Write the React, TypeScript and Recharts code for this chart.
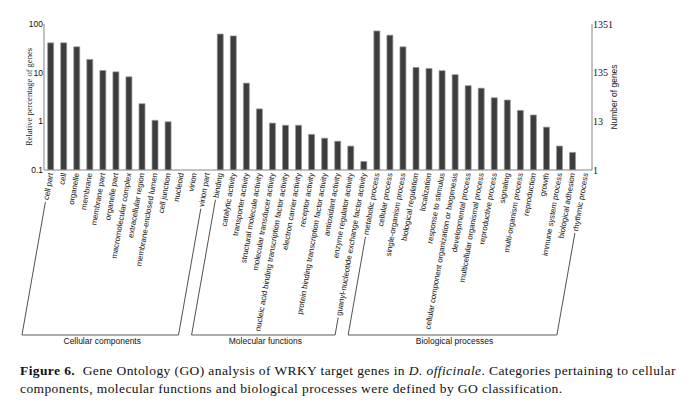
import { BarChart, Bar, XAxis, YAxis, Label } from "recharts";

// GO terms, in plot order
const categories = [
  "cell part", "cell", "organelle", "membrane", "membrane part", "organelle part",
  "macromolecular complex", "extracellular region", "membrane-enclosed lumen",
  "cell junction", "nucleoid", "virion", "virion part",
  "binding", "catalytic activity", "transporter activity", "structural molecule activity",
  "molecular transducer activity", "nucleic acid binding transcription factor activity",
  "electron carrier activity", "receptor activity",
  "protein binding transcription factor activity", "antioxidant activity",
  "enzyme regulator activity", "guanyl-nucleotide exchange factor activity",
  "metabolic process", "cellular process", "single-organism process",
  "biological regulation", "localization", "response to stimulus",
  "cellular component organization or biogenesis", "developmental process",
  "multicellular organismal process", "reproductive process", "signaling",
  "multi-organism process", "reproduction", "growth", "immune system process",
  "biological adhesion", "rhythmic process",
];

// relative percentage of genes (null = no genes)
const percent: (number | null)[] = [
  41, 41, 34, 18.7, 11.1, 10.4, 8.2, 2.3, 1.05, 0.98, null, null, null,
  62, 57, 6.1, 1.8, 0.92, 0.83, 0.83, 0.54, 0.45, 0.39, 0.31, 0.15,
  72, 59, 34, 12.8, 12.2, 11, 9.1, 5.4, 4.8, 3.05, 2.74, 1.68, 1.35, 0.76, 0.31, 0.23, null,
];

const groupNames = ["Cellular components", "Molecular functions", "Biological processes"];
const groupSizes = [13, 12, 17];

const percentTicks = [0.1, 1, 10, 100];
const geneTicks = ["1", "13", "135", "1351"];

const data = categories.map((name, i) => ({ name, value: percent[i] }));

const groupStarts = groupSizes.map((_, g) => groupSizes.slice(0, g).reduce((a, b) => a + b, 0));
const groupEnds = groupStarts.map((s, g) => s + groupSizes[g] - 1);

const W = 700;
const H = 404;
const LEFT_W = 44;
const RIGHT_W = 108;
const TOP = 24;
const X_AXIS_H = 234;
const BAND = (W - LEFT_W - RIGHT_W) / categories.length;
const BRACKET_Y = 335;
const ANGLE = 80;
const TICK_FONT = 7.8;
const SANS = "'Liberation Sans', Arial, sans-serif";
const SERIF = "'Liberation Serif', 'Times New Roman', serif";
const AXIS = "#858585";

let ctx: CanvasRenderingContext2D | null = null;
function textWidth(s: string) {
  if (!ctx) ctx = document.createElement("canvas").getContext("2d");
  if (!ctx) return s.length * 3.6;
  ctx.font = `${TICK_FONT}px ${SANS}`;
  return ctx.measureText(s).width;
}

function CategoryTick(props: any) {
  const { x, y, payload } = props;
  const label = String(payload.value);
  const i = categories.indexOf(label);
  const g = groupStarts.findIndex((s, k) => i >= s && i <= groupEnds[k]);
  const rad = (ANGLE * Math.PI) / 180;
  const drop = BRACKET_Y - y;
  const len = drop / Math.sin(rad);
  const shift = -len * Math.cos(rad);
  const w = textWidth(label);
  const isFirst = i === groupStarts[g];
  const isLast = i === groupEnds[g];
  const span = (groupSizes[g] - 1) * BAND;
  return (
    <g transform={`translate(${x},${y})`}>
      <g transform={`rotate(-${ANGLE})`}>
        <text x={0} y={0} dy="0.35em" textAnchor="end" fontSize={TICK_FONT} fontFamily={SANS} fill="#111">
          {label}
        </text>
        {(isFirst || isLast) && (
          <line x1={-(w + 2)} y1={0} x2={-len} y2={0} stroke="#333" strokeWidth={0.8} />
        )}
      </g>
      {isFirst && (
        <>
          <line x1={shift} y1={drop} x2={shift + span} y2={drop} stroke="#333" strokeWidth={0.8} />
          <text
            x={shift + span / 2 + 2}
            y={drop + 9}
            textAnchor="middle"
            fontSize={8.5}
            fontFamily={SANS}
            fill="#111"
          >
            {groupNames[g]}
          </text>
        </>
      )}
    </g>
  );
}

function TopTick(props: any) {
  const { x, y, payload } = props;
  const i = categories.indexOf(String(payload.value));
  if (i === categories.length - 1) return null;
  const bx = x + BAND / 2;
  return <line x1={bx} y1={y} x2={bx} y2={y + 3} stroke={AXIS} strokeWidth={0.8} />;
}

export default function App() {
  return (
    <div style={{ position: "absolute", left: 0, top: 0, width: W, height: H, background: "#fff" }}>
      <BarChart
        width={W}
        height={H}
        data={data}
        margin={{ top: TOP, right: 0, bottom: 0, left: 0 }}
        barCategoryGap="28%"
      >
        <XAxis
          dataKey="name"
          interval={0}
          height={X_AXIS_H}
          tickSize={0}
          tickMargin={3}
          tickLine={false}
          axisLine={{ stroke: AXIS }}
          tick={<CategoryTick />}
        />
        <XAxis
          xAxisId="top"
          dataKey="name"
          orientation="top"
          interval={0}
          height={0}
          tickSize={0}
          tickMargin={0}
          tickLine={false}
          axisLine={{ stroke: AXIS }}
          tick={<TopTick />}
        >
          <Label
            value="GO Classification"
            position="top"
            offset={5}
            style={{ fontSize: 9, fontFamily: SANS, fill: "#111" }}
          />
        </XAxis>
        <YAxis
          scale="log"
          domain={[0.1, 100]}
          ticks={percentTicks}
          allowDataOverflow
          width={LEFT_W}
          tickSize={0}
          tickMargin={1}
          tickLine={false}
          axisLine={{ stroke: AXIS }}
          tick={{ fontSize: 8.5, fontFamily: SANS, fill: "#111" }}
        >
          <Label
            value="Relative percentage of genes"
            angle={-90}
            position="insideLeft"
            offset={29}
            style={{ textAnchor: "middle", fontSize: 8.5, fontFamily: SERIF, fill: "#222" }}
          />
        </YAxis>
        <YAxis
          yAxisId="right"
          orientation="right"
          scale="log"
          domain={[0.1, 100]}
          ticks={percentTicks}
          allowDataOverflow
          width={RIGHT_W}
          tickSize={0}
          tickMargin={1}
          tickLine={false}
          axisLine={{ stroke: AXIS }}
          tickFormatter={(v: number) => geneTicks[percentTicks.indexOf(v)] ?? ""}
          tick={{ fontSize: 10, fontFamily: SERIF, fill: "#111" }}
        >
          <Label
            value="Number of genes"
            angle={-90}
            position="insideLeft"
            offset={22}
            style={{ textAnchor: "middle", fontSize: 8.5, fontFamily: SANS, fill: "#222" }}
          />
        </YAxis>
        <Bar dataKey="value" fill="#3d3d3d" stroke="#9a9a9a" strokeWidth={0.7} isAnimationActive={false} />
      </BarChart>
      <div
        style={{
          position: "absolute",
          left: 20,
          top: 362,
          fontFamily: SERIF,
          fontSize: 13.5,
          letterSpacing: 0.4,
          lineHeight: "18px",
          color: "#111",
          whiteSpace: "nowrap",
        }}
      >
        <b>Figure 6.</b>&nbsp; Gene Ontology (GO) analysis of WRKY target genes in <i>D. officinale</i>. Categories
        pertaining to cellular
        <br />
        components, molecular functions and biological processes were defined by GO classification.
      </div>
    </div>
  );
}
